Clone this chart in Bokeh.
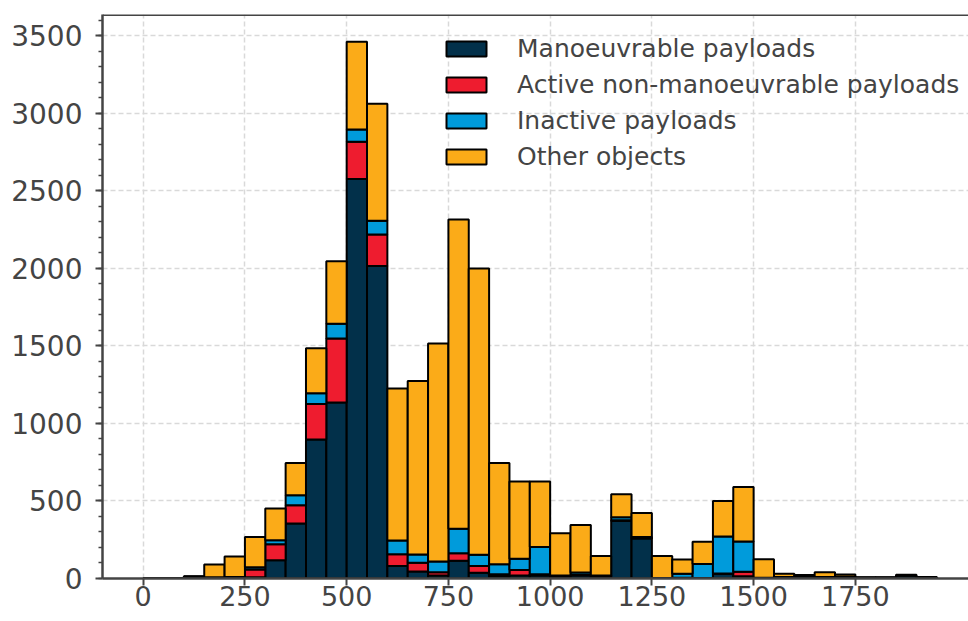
from bokeh.plotting import figure
from bokeh.models import Range1d, FixedTicker, SingleIntervalTicker, Span, Legend, LegendItem
from bokeh.embed import file_html
from bokeh.resources import INLINE

# ---- data (bin left edges, width 50 km) ----
bin_left = [0, 50, 100, 150, 200, 250, 300, 350, 400, 450, 500, 550, 600, 650, 700,
            750, 800, 850, 900, 950, 1000, 1050, 1100, 1150, 1200, 1250, 1300, 1350,
            1400, 1450, 1500, 1550, 1600, 1650, 1700, 1750, 1800, 1850, 1900]
bin_width = 50
manoeuvrable = [1, 4, 12, 8, 10, 8, 118, 354, 896, 1135, 2575, 2015, 80, 45, 20,
                115, 37, 15, 20, 20, 15, 20, 10, 370, 258, 4, 5, 3,
                30, 15, 3, 10, 15, 10, 12, 5, 5, 20, 8]
active_nonman = [0, 0, 0, 0, 0, 50, 102, 118, 229, 413, 240, 202, 77, 56, 20,
                 48, 43, 12, 35, 8, 0, 3, 0, 5, 5, 0, 0, 0,
                 2, 28, 0, 0, 0, 0, 0, 0, 0, 0, 0]
inactive = [0, 0, 0, 0, 0, 15, 27, 64, 69, 94, 80, 90, 88, 54, 70,
            157, 73, 65, 72, 175, 5, 15, 10, 20, 5, 0, 25, 90,
            238, 195, 2, 0, 0, 0, 0, 0, 0, 0, 0]
other = [0, 0, 3, 82, 132, 195, 204, 208, 291, 403, 565, 753, 980, 1119, 1405,
         1995, 1845, 653, 498, 422, 272, 307, 125, 148, 154, 141, 93, 144,
         230, 352, 119, 20, 7, 31, 14, 3, 3, 4, 1]
series_keys = ["man", "act", "inact", "other"]
series_labels = ["Manoeuvrable payloads", "Active non-manoeuvrable payloads",
                 "Inactive payloads", "Other objects"]
colors = ["#02304A", "#EE1C2F", "#009BDB", "#FBAB18"]
x_ticks = [0, 250, 500, 750, 1000, 1250, 1500, 1750]

centers = [b + bin_width / 2 for b in bin_left]
src = dict(x=centers, man=manoeuvrable, act=active_nonman, inact=inactive, other=other)

TEXT = "#444444"
FONT = "DejaVu Sans"
Y_TOP = 3636

p = figure(width=968, height=618, output_backend="svg", toolbar_location=None,
           x_range=Range1d(-100, 2028), y_range=Range1d(0, Y_TOP),
           min_border_left=102, min_border_right=0, min_border_top=14, min_border_bottom=40)
p.outline_line_color = None
p.background_fill_color = "white"

p.xgrid.ticker = FixedTicker(ticks=x_ticks)
for g in (p.xgrid, p.ygrid):
    g.grid_line_color = "#d9d9d9"
    g.grid_line_dash = "5 3"
    g.grid_line_width = 1.5

renderers = p.vbar_stack(series_keys, x="x", width=bin_width, source=src,
                         fill_color=colors, line_color="black", line_width=2)

legend = Legend(items=[LegendItem(label=l, renderers=[r]) for l, r in zip(series_labels, renderers)],
                location=(339, 407), padding=0, spacing=7, glyph_width=50, glyph_height=19,
                label_height=19, label_standoff=26, label_text_font=FONT,
                label_text_font_size="25px", label_text_color=TEXT,
                background_fill_alpha=0, border_line_color=None, margin=0)
p.add_layout(legend, "center")

# axes
p.xaxis.ticker = FixedTicker(ticks=x_ticks)
p.yaxis.ticker = SingleIntervalTicker(interval=500, num_minor_ticks=5)
for ax in (p.xaxis, p.yaxis):
    ax.axis_line_color = TEXT
    ax.axis_line_width = 2.5
    ax.major_tick_line_color = TEXT
    ax.major_tick_line_width = 2
    ax.major_tick_out = 7
    ax.major_tick_in = 0
    ax.major_label_text_font = FONT
    ax.major_label_text_color = TEXT
p.xaxis.major_label_text_font_size = "27px"
p.yaxis.major_label_text_font_size = "28px"
p.xaxis.minor_tick_line_color = None
p.xaxis.major_label_standoff = 0
p.yaxis.minor_tick_line_color = TEXT
p.yaxis.minor_tick_line_width = 1.5
p.yaxis.minor_tick_out = 4
p.yaxis.minor_tick_in = 0
p.yaxis.major_label_standoff = 13

p.add_layout(Span(location=Y_TOP, dimension="width", line_color=TEXT, line_width=3))

open("out.html", "w").write(file_html(p, INLINE))
